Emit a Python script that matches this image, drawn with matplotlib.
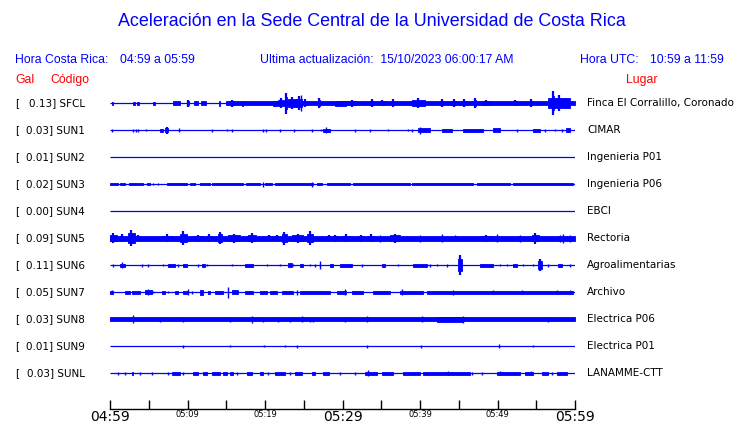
import matplotlib
matplotlib.use("Agg")
import matplotlib.pyplot as plt
from matplotlib.transforms import blended_transform_factory

# station data
stations = ["SFCL", "SUN1", "SUN2", "SUN3", "SUN4", "SUN5", "SUN6", "SUN7", "SUN8", "SUN9", "SUNL"]
gal = [0.13, 0.03, 0.01, 0.02, 0.00, 0.09, 0.11, 0.05, 0.03, 0.01, 0.03]
places = ["Finca El Corralillo, Coronado", "CIMAR", "Ingenieria P01", "Ingenieria P06", "EBCI",
          "Rectoria", "Agroalimentarias", "Archivo", "Electrica P06", "Electrica P01", "LANAMME-CTT"]

tick_minutes = list(range(0, 61, 5))
tick_labels = ["04:59", "", "05:09", "", "05:19", "", "05:29", "", "05:39", "", "05:49", "", "05:59"]

# trace envelopes: (start minute, end minute, half amplitude in px)
sfcl = [(0.2, 0.4, 1.5), (3.0, 3.2, 1.5), (3.5, 3.7, 1.5), (5.6, 5.8, 1.5), (8.1, 9.0, 2), (10.0, 10.2, 3.5),
        (10.8, 11.4, 2), (11.8, 12.4, 2), (14.0, 14.2, 2.5), (15.0, 60.0, 2), (15.4, 16.0, 3.5), (17.0, 17.2, 2.5),
        (21.0, 21.5, 2.5), (21.7, 22.4, 5), (22.6, 22.9, 10.5), (23.0, 24.0, 6), (24.0, 24.8, 7), (24.7, 24.7, 8),
        (24.9, 25.4, 4), (26.9, 27.1, 5), (29.0, 30.5, 2.5), (30.5, 31.9, 3.5), (33.5, 34.0, 4), (34.8, 35.5, 3),
        (36.4, 36.6, 4), (39.0, 40.6, 5), (42.6, 43.0, 4), (44.0, 44.7, 4), (45.4, 46.0, 4), (47.0, 47.2, 5),
        (48.0, 49.0, 3), (52.0, 52.5, 3), (54.2, 54.4, 4), (56.5, 59.3, 8), (57.0, 57.3, 12)]
sun1 = [(0.3, 0.3, 1.5), (3.0, 3.0, 1.5), (3.3, 3.3, 1.5), (3.6, 3.6, 1.5), (4.7, 4.7, 1), (6.5, 6.9, 1.5),
        (7.1, 7.5, 3.5), (8.9, 8.9, 2), (13.1, 13.1, 1.5), (15.1, 15.1, 1), (15.7, 15.7, 1.5), (19.8, 19.8, 1.5),
        (20.1, 20.1, 1.5), (21.9, 21.9, 1.5), (23.7, 23.7, 1.5), (26.1, 26.1, 1.5), (27.2, 27.2, 1),
        (27.5, 28.4, 1.5), (27.9, 27.9, 3), (31.6, 31.6, 1.5), (33.5, 33.5, 1.5), (35.9, 35.9, 1), (38.5, 38.5, 1),
        (39.0, 39.0, 1.5), (39.7, 41.3, 2), (40.0, 40.0, 3.5), (42.9, 44.1, 1.5), (45.5, 48.1, 1.5),
        (49.4, 50.3, 2), (52.5, 52.5, 1.5), (54.6, 55.5, 1.5), (56.1, 56.1, 1.5), (57.4, 57.4, 1),
        (58.3, 58.3, 1.5), (58.9, 59.4, 2)]
sun2 = []
sun3 = [(0.0, 1.0, 1.2), (1.3, 1.9, 1.2), (2.5, 3.5, 1.2), (3.6, 4.3, 1.2), (4.8, 5.2, 1.2), (5.5, 5.5, 1.2),
        (6.2, 6.2, 1.2), (7.3, 9.9, 1.2), (10.3, 11.0, 1.2), (11.6, 12.9, 1.2), (13.1, 17.2, 1.2),
        (17.6, 19.4, 1.2), (19.7, 19.7, 2.5), (20.0, 20.9, 1.2), (21.3, 26.2, 1.2), (26.1, 26.1, 2.5),
        (26.7, 27.3, 1.2), (28.0, 31.0, 1.2), (31.4, 38.7, 1.2), (39.0, 46.8, 1.2), (47.3, 51.6, 1.2),
        (52.0, 59.8, 1.2)]
sun4 = []
sun5 = [(0.0, 60.0, 2.5), (0.0, 0.9, 5), (1.3, 1.7, 4), (2.3, 3.2, 8), (3.5, 3.8, 3), (6.7, 8.0, 4),
        (9.0, 9.9, 7), (10.7, 12.0, 3.5), (12.5, 13.1, 4), (13.9, 14.4, 6), (15.2, 16.8, 4.5), (17.8, 18.9, 5),
        (20.2, 20.9, 3), (21.3, 21.7, 3), (22.2, 22.8, 6.5), (23.5, 24.9, 4.5), (25.4, 26.2, 7), (28.0, 28.4, 3),
        (28.8, 29.3, 3.5), (29.9, 31.0, 4), (32.3, 32.6, 3.5), (33.3, 34.0, 4), (34.8, 34.8, 3.5),
        (36.1, 37.4, 4.5), (40.0, 40.0, 3.5), (42.8, 42.8, 4), (44.5, 44.5, 3), (47.7, 49.4, 3.5),
        (49.9, 49.9, 4), (52.9, 52.9, 3.5), (54.5, 55.3, 5.5), (58.1, 58.1, 3.5), (58.5, 58.5, 4.5),
        (59.4, 59.4, 3.5)]
sun6 = [(0.4, 0.4, 1.5), (1.3, 1.9, 1.5), (1.6, 1.6, 3), (4.1, 4.1, 1.5), (4.9, 4.9, 1.5), (6.9, 6.9, 1),
        (7.5, 8.4, 1.5), (8.8, 8.8, 1.5), (9.4, 9.9, 1.5), (11.4, 11.4, 1.5), (11.9, 12.3, 1.5), (12.5, 12.5, 1),
        (15.8, 15.8, 1), (17.4, 18.5, 1.5), (20.2, 20.2, 1), (21.9, 21.9, 1), (23.0, 23.5, 2), (23.6, 23.6, 1),
        (24.5, 24.9, 1.5), (25.8, 25.8, 1), (26.5, 26.5, 1.5), (27.1, 27.1, 4), (28.4, 28.8, 1.5),
        (29.7, 31.2, 1.5), (32.5, 32.5, 1.5), (35.1, 35.5, 1.5), (37.2, 37.2, 1), (39.1, 40.9, 1.5),
        (41.3, 41.3, 1.5), (42.2, 42.2, 1), (43.5, 43.5, 1.5), (44.9, 45.4, 10), (47.7, 49.4, 1.5),
        (50.3, 50.3, 1), (51.2, 51.2, 1), (52.0, 52.5, 1.5), (53.3, 53.3, 1), (54.6, 54.6, 1),
        (55.2, 55.7, 6), (56.5, 56.5, 1.5), (57.8, 58.3, 1.5), (59.4, 59.4, 1.5)]
sun7 = [(0.0, 0.4, 1.5), (0.2, 0.2, 2), (1.9, 2.6, 1.5), (2.8, 3.9, 1.5), (4.5, 5.4, 2), (4.9, 4.9, 3),
        (5.5, 5.5, 1), (6.7, 7.1, 1.5), (7.5, 7.5, 1), (8.4, 8.8, 1.5), (9.4, 9.9, 1.5), (10.1, 10.1, 3),
        (10.6, 10.6, 1.5), (11.6, 12.0, 2.5), (12.6, 12.9, 1.5), (13.5, 14.6, 1.5), (15.2, 15.2, 5.5),
        (15.7, 16.5, 2), (17.4, 18.5, 1.5), (19.4, 20.2, 1.5), (20.6, 21.5, 1.5), (22.2, 23.6, 1.5),
        (24.1, 24.1, 2.5), (24.5, 28.4, 1.5), (29.3, 30.5, 1.5), (30.3, 30.3, 3), (31.2, 32.6, 1.5),
        (33.9, 36.1, 1.5), (37.4, 40.4, 1.5), (37.7, 37.7, 3), (40.9, 59.8, 1.5), (44.3, 44.3, 2.5),
        (49.4, 49.4, 2), (53.2, 53.2, 2), (57.7, 57.7, 2), (59.4, 59.4, 2)]
sun8 = [(0.0, 60.0, 2), (3.0, 3.0, 4), (6.5, 6.5, 2.5), (9.4, 9.4, 2.5), (15.5, 15.5, 2.5), (18.3, 18.3, 3.5),
        (19.7, 19.7, 2.5), (21.7, 21.7, 2.5), (23.2, 23.2, 2.5), (24.8, 24.8, 3), (25.8, 25.8, 2.5),
        (26.2, 26.2, 2.5), (30.3, 30.3, 2.5), (33.1, 33.1, 3), (40.2, 40.2, 3), (42.2, 45.5, 2.5),
        (45.5, 45.5, 3.5), (56.5, 56.5, 2.5)]
sun9 = [(9.4, 9.4, 1.5), (15.5, 15.5, 1), (19.9, 19.9, 1), (22.6, 22.6, 1), (24.1, 24.1, 1.5), (33.1, 33.1, 1.5),
        (40.1, 40.1, 1.5), (50.2, 50.2, 2), (54.6, 54.6, 1)]
sunl = [(1.0, 1.0, 1.5), (1.9, 1.9, 1.5), (2.8, 3.0, 1.5), (3.9, 3.9, 1.5), (5.4, 5.4, 1.5), (7.5, 7.5, 1.5),
        (8.0, 9.0, 1.5), (9.4, 9.4, 1.5), (10.7, 11.4, 1.5), (12.0, 12.5, 1.5), (13.1, 14.2, 1.5),
        (14.6, 15.1, 1.5), (15.5, 15.9, 1.5), (16.4, 16.4, 1.5), (17.7, 18.3, 1.5), (19.4, 19.8, 1.5),
        (20.4, 20.4, 1.5), (21.3, 22.6, 1.5), (23.2, 23.2, 1.5), (23.9, 24.8, 1.5), (26.1, 26.5, 1.5),
        (27.5, 28.2, 1.5), (29.7, 29.7, 1.5), (31.6, 31.6, 1.5), (32.9, 34.4, 1.5), (33.3, 33.3, 3),
        (35.1, 36.5, 1.5), (37.8, 40.0, 1.5), (40.4, 46.5, 1.5), (43.6, 43.6, 2), (46.7, 46.7, 1.5),
        (48.0, 48.0, 1.5), (49.9, 52.9, 1.5), (50.3, 50.3, 2), (53.5, 54.6, 1.5), (54.3, 54.3, 2),
        (55.7, 56.5, 1.5), (57.0, 57.0, 1.5), (57.7, 59.0, 1.5)]
traces = [sfcl, sun1, sun2, sun3, sun4, sun5, sun6, sun7, sun8, sun9, sunl]

W, H = 740, 423
ROW_PX = 27
BLUE = "#0000ff"
RED = "#ff0000"

fig = plt.figure(figsize=(W / 100, H / 100), dpi=100)
ax = fig.add_axes([110 / W, 1 - 409 / H, 465 / W, (409 - 88) / H])
ax.set_xlim(0, 60)
ax.set_ylim(11.333, -0.556)

for i, tr in enumerate(traces):
    ax.hlines(i, 0, 60, color=BLUE, lw=0.9)
    for s, e, a in tr:
        h = a / ROW_PX
        if e - s <= 0:
            ax.vlines(s, i - h, i + h, color=BLUE, lw=1.0)
        else:
            # burst: block body with a peak spike in the middle
            k = 0.6 if a > 2.5 else 1.0
            ax.fill_between([s, e], i - k * h, i + k * h, color=BLUE, lw=0.6)
            if k < 1:
                ax.vlines((s + e) / 2, i - h, i + h, color=BLUE, lw=1.6)

for s in ["top", "left", "right"]:
    ax.spines[s].set_visible(False)
ax.spines["bottom"].set_linewidth(1.0)
ax.set_yticks([])
ax.set_xticks(tick_minutes)
ax.set_xticklabels(tick_labels)
ax.tick_params(axis="x", direction="in", length=6.5, width=1.0, pad=1.0)
for lab, m in zip(ax.get_xticklabels(), tick_minutes):
    lab.set_fontsize(10 if m % 30 == 0 else 6)
    lab.set_family("DejaVu Sans")

# station labels
tr_left = blended_transform_factory(fig.transFigure, ax.transData)
for i, (g, st, pl) in enumerate(zip(gal, stations, places)):
    ax.text(15 / W, i, "[", transform=tr_left, ha="left", va="center", fontsize=7.5)
    ax.text(85 / W, i, f"{g:.2f}] {st}", transform=tr_left, ha="right", va="center", fontsize=7.5)
    ax.text(587 / W, i, pl, transform=tr_left, ha="left", va="center", fontsize=7.5)

# header texts
hf = "Liberation Sans"
fig.text(372 / W, 1 - 22 / H, "Aceleración en la Sede Central de la Universidad de Costa Rica",
         ha="center", va="center", color=BLUE, fontsize=12.9, family=hf)
fig.text(15 / W, 1 - 60 / H, "Hora Costa Rica:", ha="left", va="center", color=BLUE, fontsize=8.8, family=hf)
fig.text(120 / W, 1 - 60 / H, "04:59 a 05:59", ha="left", va="center", color=BLUE, fontsize=8.8, family=hf)
fig.text(260 / W, 1 - 60 / H, "Ultima actualización:  15/10/2023 06:00:17 AM", ha="left", va="center",
         color=BLUE, fontsize=8.8, family=hf)
fig.text(580 / W, 1 - 60 / H, "Hora UTC:", ha="left", va="center", color=BLUE, fontsize=8.8, family=hf)
fig.text(650 / W, 1 - 60 / H, "10:59 a 11:59", ha="left", va="center", color=BLUE, fontsize=8.8, family=hf)
fig.text(15 / W, 1 - 80 / H, "Gal", ha="left", va="center", color=RED, fontsize=8.8, family=hf)
fig.text(50 / W, 1 - 80 / H, "Código", ha="left", va="center", color=RED, fontsize=8.8, family=hf)
fig.text(626 / W, 1 - 80 / H, "Lugar", ha="left", va="center", color=RED, fontsize=8.8, family=hf)

fig.savefig("out.png", dpi=100)
